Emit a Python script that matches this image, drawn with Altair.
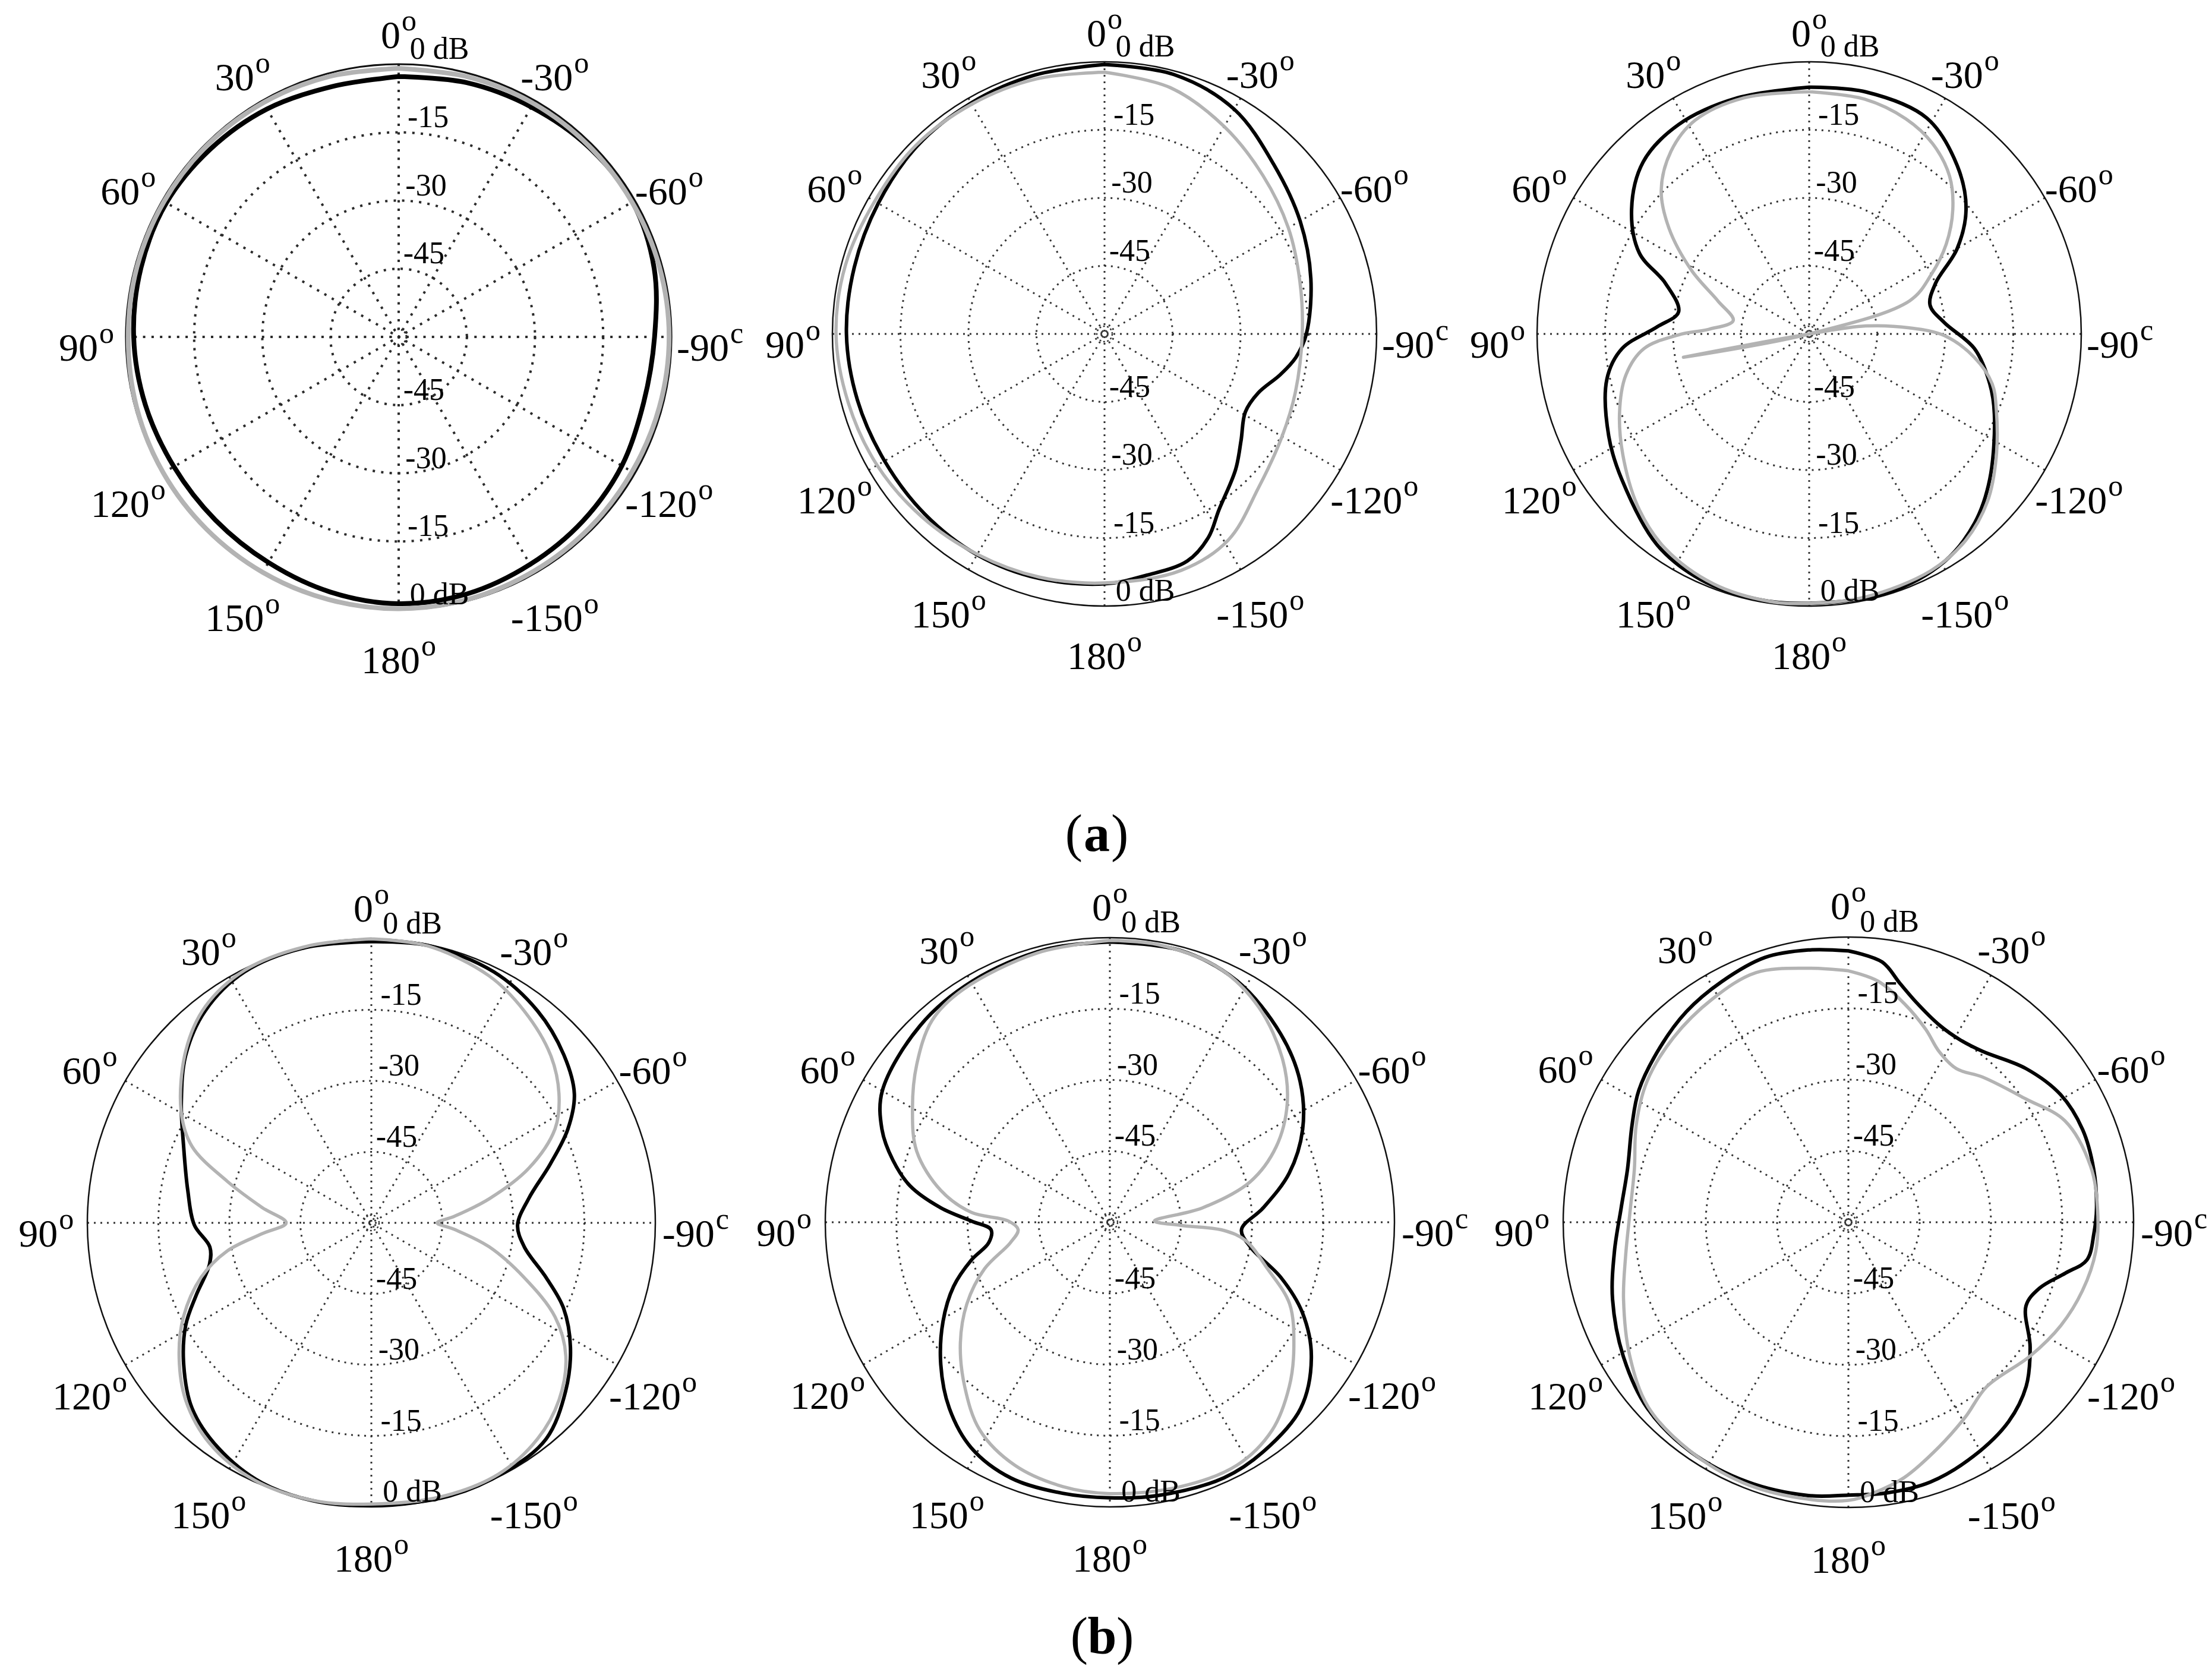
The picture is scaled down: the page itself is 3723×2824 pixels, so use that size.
import altair as alt
import pandas as pd

# ---------------- measured radiation patterns ----------------
# angle in degrees (0 = top, positive = counter-clockwise), normalised gain in dB
A1_BLACK_ANG = [0, 15, 30, 45, 60, 75, 90, 105, 120, 135, 150, 165, 180,
                -165, -150, -135, -120, -105, -90, -75, -60, -45, -30, -15]
A1_BLACK_DB = [-2.7, -3.0, -2.1, -1.5, -1.0, -1.3, -1.7, -2.3, -2.9, -3.0, -2.7, -1.9, -1.3,
               -1.5, -2.2, -2.7, -3.3, -4.2, -3.7, -1.8, -0.6, -0.9, -1.6, -2.1]
A1_GREY_ANG = [0, 15, 30, 45, 60, 75, 90, 105, 120, 135, 150, 165, 180,
               -165, -150, -135, -120, -105, -90, -75, -60, -45, -30, -15]
A1_GREY_DB = [-0.9, -0.7, -0.5, -0.4, -0.4, -0.4, -0.5, -0.3, -0.2, -0.2, -0.2, -0.2, -0.2,
              -0.3, -0.5, -0.6, -0.7, -0.6, -0.5, -0.6, -0.7, -0.7, -0.7, -0.8]

A2_BLACK_ANG = [0, 15, 30, 45, 60, 75, 90, 105, 120, 135, 150, 165, 180,
                -170, -160, -153, -147, -136, -128, -119, -111, -103, -97, -90,
                -75, -60, -45, -30, -15]
A2_BLACK_DB = [-0.6, -0.9, -1.2, -1.5, -2.4, -2.9, -3.1, -3.6, -4.0, -3.9, -3.8, -4.2, -4.9,
               -6.0, -6.7, -9.6, -13.7, -18.4, -21.8, -24.5, -23.7, -20.2, -17.5, -15.5,
               -12.9, -10.2, -7.2, -2.8, -0.8]
A2_GREY_ANG = [0, 15, 30, 45, 60, 75, 90, 105, 120, 135, 150, 165, 180,
               -162, -149, -135, -120, -107, -90, -75, -60, -45, -30, -15]
A2_GREY_DB = [-2.3, -1.8, -1.5, -1.2, -1.5, -0.9, -0.8, -1.5, -2.1, -3.0, -3.9, -4.5, -5.1,
              -5.2, -7.0, -12.0, -14.8, -16.0, -16.4, -15.4, -13.2, -10.6, -7.2, -3.8]

A3_BLACK_ANG = [0, 17, 32, 44, 55, 64.5, 70.6, 80.4, 87.4, 94.5, 102.6, 117, 127.8, 144.1,
                156.1, 168.9, 180, -163.1, -149.4, -138.8, -128.8, -113.4, -105.4, -95.1,
                -85.2, -76.6, -68.2, -60, -51.5, -41.4, -28.6, -13.2]
A3_BLACK_DB = [-5.6, -5.6, -5.6, -7.3, -12.2, -18.5, -26.4, -30.8, -26.4, -18.6, -14.3, -10.4,
               -7.7, -2.7, -0.8, -0.4, -0.6, -0.4, -1.6, -4.6, -8.9, -15.5, -18.7, -23.4,
               -30.1, -32.6, -30.0, -22.3, -15.8, -10.6, -5.8, -5.2]
A3_GREY_ANG = [0, 15.4, 28.1, 37.1, 45.8, 52.9, 61.6, 70.1, 80, 87.3, 90.4, 95.1, 102.6,
               112.9, 124.7, 136, 146.3, 159, 171.7, 180, -167.9, -152.8, -142.8, -133.1,
               -123.4, -112, -105.2, -98.1, -90.7, -86.5, -82, -80.8, -79.5, -78, -71.7,
               -64.1, -56.8, -49.1, -41.6, -33, -24.2, -13.3]
A3_GREY_DB = [-6.6, -6.0, -6.6, -9.5, -14.5, -21.2, -30.5, -38.6, -43.0, -37.9, -31.2, -23.4,
              -18.6, -14.6, -10.4, -6.1, -3.0, -1.0, -0.4, -0.6, -0.7, -1.3, -2.9, -6.1,
              -10.6, -15.5, -18.2, -23.2, -30.2, -37.9, -47.4, -60.0, -88.2, -60.0, -36.6,
              -30.1, -23.9, -18.1, -13.4, -10.0, -8.0, -6.8]

B1_BLACK_ANG = [0, 13.4, 26.8, 38.1, 47.8, 57.7, 67.9, 79.9, 90.7, 98.5, 104.4, 112.4, 118.9,
                127.1, 136, 145.8, 157.2, 169.4, 180, -163.9, -151.7, -141, -130.9, -122,
                -113.9, -107.4, -98.9, -90.9, -81.3, -71.8, -64.5, -57.6, -48.8, -38.1, -26,
                -11.6]
B1_BLACK_DB = [-0.6, -0.2, -0.6, -3.1, -7.1, -12.5, -17.2, -20.6, -22.6, -25.5, -24.7, -20.0,
               -15.2, -10.3, -5.5, -2.5, -0.4, 0.0, -0.3, 0.0, -0.3, -1.3, -5.7, -10.4, -15.6,
               -21.3, -27.3, -29.1, -26.4, -20.2, -14.0, -9.2, -6.0, -3.1, -1.0, -0.2]
B1_GREY_ANG = [0, 13.3, 26.6, 37.5, 47.1, 59.6, 66.9, 73.9, 82, 90, 95.7, 101.1, 107.8, 116.6,
               124.7, 133.6, 143.8, 155.6, 168.5, 180, -166, -153.2, -142.5, -133.3, -124.4,
               -117.1, -109.7, -101.5, -94.5, -90, -85.5, -78.5, -70.9, -62.9, -55.5, -46.8,
               -35.8, -25.5, -11.5]
B1_GREY_DB = [0.0, 0.0, -0.3, -2.4, -6.5, -13.4, -18.8, -28.3, -36.7, -42.0, -36.8, -28.9,
              -22.2, -15.6, -10.6, -5.8, -2.2, -0.3, -0.1, -0.6, -0.3, -0.5, -2.4, -5.5, -10.2,
              -16.4, -25.7, -34.6, -42.4, -46.1, -42.4, -34.6, -24.8, -16.4, -11.9, -8.1,
              -4.8, -2.2, -0.3]

B2_BLACK_ANG = [0, 13.2, 29.7, 44, 60, 67.8, 74, 79.7, 85.1, 89.5, 93.6, 99.6, 105.3, 112.3,
                120.7, 130.1, 139.2, 148.4, 158.8, 170.1, 180, -169.9, -155.9, -146.3, -134.3,
                -123.6, -115.1, -107.9, -100, -93.2, -84.6, -74.7, -64.3, -53.5, -42.2, -27.8,
                -14.6]
B2_BLACK_DB = [-0.9, -0.9, -1.5, -2.4, -4.6, -8.1, -12.4, -17.2, -24.2, -30.8, -34.9, -34.1,
               -29.7, -24.4, -19.1, -13.4, -8.2, -4.2, -2.2, -2.0, -1.9, -1.5, -1.0, -1.8,
               -3.8, -9.0, -15.2, -22.1, -29.9, -32.2, -27.5, -20.8, -14.9, -10.1, -6.4, -2.5,
               -0.8]
B2_GREY_ANG = [0, 15, 32.4, 41.4, 50.7, 59.9, 69.8, 79.3, 85.9, 89.3, 94.6, 101.6, 110.4, 119.7,
               128.9, 138.5, 148, 158.6, 169.9, 180, -165, -152.3, -142, -132.5, -124.2, -114.4,
               -106.5, -97.7, -94.1, -92.5, -88.3, -81.2, -73.9, -65.6, -56.2, -46.8, -34.8,
               -23.4, -10]
B2_GREY_DB = [-0.6, -1.2, -2.0, -3.3, -7.4, -11.9, -16.6, -23.7, -30.7, -38.6, -40.6, -38.6,
              -31.8, -25.3, -19.5, -13.8, -8.3, -5.0, -3.4, -2.8, -2.3, -2.2, -4.4, -8.7, -13.1,
              -18.4, -25.3, -31.1, -35.9, -45.1, -50.6, -40.3, -29.2, -21.5, -15.0, -10.0,
              -4.9, -1.7, -0.6]

B3_BLACK_ANG = [0, 8.4, 17.5, 27.8, 37.6, 47, 57.8, 65.8, 76.4, 86.4, 97.1, 108.1, 120.7, 132.7,
                145.5, 158.8, 171.7, 180, -171.9, -162.5, -151.8, -141.2, -132.7, -124.5,
                -115.2, -109.1, -103.2, -99, -92.7, -86.7, -77.7, -68.4, -59, -49.1, -38.1,
                -31.7, -24.7, -17.4, -12.2, -7.4]
B3_BLACK_DB = [-2.9, -2.1, -1.6, -2.8, -4.1, -5.9, -7.9, -10.1, -12.2, -12.1, -10.4, -7.8, -4.9,
               -2.4, -1.4, -1.4, -1.9, -2.6, -2.5, -2.7, -4.2, -6.2, -9.1, -13.6, -18.7, -17.5,
               -13.1, -9.2, -8.3, -7.7, -7.2, -7.0, -7.9, -10.6, -14.3, -15.0, -14.3, -11.7,
               -8.6, -4.8]
B3_GREY_ANG = [0, 9, 20.3, 31.3, 43.5, 55, 65.4, 76, 87.4, 98.6, 108.9, 121.4, 132.7, 145, 158,
               170, 180, -174.7, -167.7, -158.1, -149, -139.9, -126.3, -115.9, -106.3, -96.7,
               -87, -77, -64.9, -55.3, -42.8, -35.1, -27.9, -21.9, -14.3, -7]
B3_GREY_DB = [-7.1, -5.9, -4.0, -5.0, -6.5, -8.3, -10.9, -13.6, -14.0, -12.6, -10.0, -6.1, -2.7,
              -1.5, -0.9, -1.1, -1.5, -2.8, -5.0, -9.0, -12.2, -14.8, -12.5, -10.3, -8.7, -7.6,
              -7.5, -7.7, -9.7, -14.5, -18.4, -20.5, -19.3, -16.3, -12.5, -8.9]

# axis ticks / labels
ANGLE_TICKS = [0, 30, 60, 90, 120, 150, 180, -150, -120, -90, -60, -30]
ANGLE_TEXT = ["0", "30", "60", "90", "120", "150", "180", "-150", "-120", "-90", "-60", "-30"]
ANGLE_SUP = ["o", "o", "o", "o", "o", "o", "o", "o", "o", "c", "o", "o"]
SPOKE_ANGLES = [0, 30, 60, 90, 120, 150]
GRID_DB = [-45, -30, -15]
RLABEL_DB = [0, -15, -30, -45]
RLABEL_TEXT = ["0 dB", "-15", "-30", "-45"]
CAPTIONS = ["a", "b"]

# ---------------- layout / style ----------------
SERIF = "Liberation Serif"
BLACK = "#000000"
GREY = "#b3b3b3"
FS_NUM, FS_SUP, FS_DB, FS_CAP = 66, 50, 52, 88
LABEL_R = 1.145

PANELS = [
    dict(key="a1", cx=671, cy=567, R=459, bw=8.0, gw=8.0, gridw=4.0, dash=[4, 10.3], outw=3.2, gcol="#2a2a2a"),
    dict(key="a2", cx=1859, cy=562, R=458, bw=6.0, gw=5.5, gridw=3.0, dash=[3, 8], outw=2.5, gcol="#333333"),
    dict(key="a3", cx=3045, cy=562, R=458, bw=6.0, gw=5.5, gridw=3.0, dash=[3, 8], outw=2.5, gcol="#333333"),
    dict(key="b1", cx=625, cy=2058, R=478, bw=6.0, gw=5.5, gridw=3.0, dash=[3, 8], outw=2.5, gcol="#333333"),
    dict(key="b2", cx=1868, cy=2057, R=479, bw=6.0, gw=5.5, gridw=3.0, dash=[3, 8], outw=2.5, gcol="#333333"),
    dict(key="b3", cx=3111, cy=2057, R=480, bw=6.0, gw=5.5, gridw=3.0, dash=[3, 8], outw=2.5, gcol="#333333"),
]
CURVES = {
    "a1": [(A1_BLACK_ANG, A1_BLACK_DB, BLACK), (A1_GREY_ANG, A1_GREY_DB, GREY)],
    "a2": [(A2_BLACK_ANG, A2_BLACK_DB, BLACK), (A2_GREY_ANG, A2_GREY_DB, GREY)],
    "a3": [(A3_BLACK_ANG, A3_BLACK_DB, BLACK), (A3_GREY_ANG, A3_GREY_DB, GREY)],
    "b1": [(B1_BLACK_ANG, B1_BLACK_DB, BLACK), (B1_GREY_ANG, B1_GREY_DB, GREY)],
    "b2": [(B2_BLACK_ANG, B2_BLACK_DB, BLACK), (B2_GREY_ANG, B2_GREY_DB, GREY)],
    "b3": [(B3_BLACK_ANG, B3_BLACK_DB, BLACK), (B3_GREY_ANG, B3_GREY_DB, GREY)],
}
CAPTION_POS = [(1846, 1432), (1855, 2783)]

XS = alt.Scale(domain=[8, 3715], nice=False, zero=False)
YS = alt.Scale(domain=[8, 2816], nice=False, zero=False, reverse=True)
X = alt.X("x:Q", scale=XS, axis=None)
Y = alt.Y("y:Q", scale=YS, axis=None)
RHO = "(datum.db + 60) / 60"


def px(p, k="datum.rho", a="datum.ang"):
    return f"{p['cx']} - {p['R']} * {k} * sin({a} * PI / 180)"


def py(p, k="datum.rho", a="datum.ang"):
    return f"{p['cy']} - {p['R']} * {k} * cos({a} * PI / 180)"


def num_width(s):
    nd = sum(c.isdigit() for c in s)
    return FS_NUM * (0.5 * nd + (0.333 if s.startswith("-") else 0.0))


SUP_W = 0.5 * FS_SUP + 2
LABEL_OFF = [(num_width(s) - SUP_W) / 2 for s in ANGLE_TEXT]

layers = []
for p in PANELS:
    # dotted grid rings (vega circle symbol: radius = sqrt(size) / 2)
    rings = pd.DataFrame({"db": GRID_DB})
    layers.append(
        alt.Chart(rings)
        .transform_calculate(rho=RHO)
        .transform_calculate(x=str(p["cx"]), y=str(p["cy"]),
                             sz=f"pow(2 * {p['R']} * datum.rho, 2)")
        .mark_point(shape="circle", filled=False, opacity=1, color=p["gcol"],
                    strokeWidth=p["gridw"], strokeDash=p["dash"])
        .encode(x=X, y=Y, size=alt.Size("sz:Q", scale=None, legend=None))
    )
    # spokes
    sp = pd.DataFrame({"ang": SPOKE_ANGLES})
    layers.append(
        alt.Chart(sp)
        .transform_calculate(
            x=px(p, "1"), y=py(p, "1"), x2=px(p, "-1"), y2=py(p, "-1"))
        .mark_rule(color=p["gcol"], strokeWidth=p["gridw"], strokeDash=p["dash"])
        .encode(x=X, y=Y, x2=alt.X2("x2:Q"), y2=alt.Y2("y2:Q"))
    )
    # small centre circle
    cen = pd.DataFrame({"db": [-59.2]})
    layers.append(
        alt.Chart(cen)
        .transform_calculate(x=str(p["cx"]), y=str(p["cy"]), sz="26 * 26")
        .mark_point(shape="circle", filled=False, opacity=1, color=p["gcol"],
                    strokeWidth=p["gridw"] * 0.8, strokeDash=[3, 3.5])
        .encode(x=X, y=Y, size=alt.Size("sz:Q", scale=None, legend=None))
    )
    # outer 0 dB circle
    outer = pd.DataFrame({"db": [0]})
    layers.append(
        alt.Chart(outer)
        .transform_calculate(rho=RHO)
        .transform_calculate(x=str(p["cx"]), y=str(p["cy"]),
                             sz=f"pow(2 * {p['R']} * datum.rho, 2)")
        .mark_point(shape="circle", filled=False, opacity=1, color="#111111",
                    strokeWidth=p["outw"])
        .encode(x=X, y=Y, size=alt.Size("sz:Q", scale=None, legend=None))
    )
    # pattern curves
    for ang, db, col in CURVES[p["key"]]:
        n = len(ang)
        df = pd.DataFrame({"ang": list(ang) + [ang[0]],
                           "db": list(db) + [db[0]],
                           "seq": list(range(n + 1))})
        layers.append(
            alt.Chart(df)
            .transform_calculate(rho=RHO)
            .transform_calculate(x=px(p), y=py(p))
            .mark_line(interpolate="catmull-rom", color=col,
                       strokeWidth=p["bw"] if col == BLACK else p["gw"],
                       strokeCap="round", strokeJoin="round")
            .encode(x=X, y=Y, order=alt.Order("seq:Q"))
        )
    # angle labels: number + superscript
    lab = pd.DataFrame({"ang": ANGLE_TICKS, "t": ANGLE_TEXT, "sup": ANGLE_SUP,
                        "off": LABEL_OFF})
    base_x = px(p, str(LABEL_R))
    base_y = py(p, str(LABEL_R))
    layers.append(
        alt.Chart(lab)
        .transform_calculate(x=f"{base_x} + datum.off", y=base_y)
        .mark_text(align="right", baseline="middle", dy=20, font=SERIF,
                   fontSize=FS_NUM, color="black")
        .encode(x=X, y=Y, text="t:N")
    )
    layers.append(
        alt.Chart(lab)
        .transform_calculate(x=f"{base_x} + datum.off + 2", y=base_y)
        .mark_text(align="left", baseline="middle", dy=-5, font=SERIF,
                   fontSize=FS_SUP, color="black")
        .encode(x=X, y=Y, text="sup:N")
    )
    # radial dB labels (above and below the centre)
    dbl = pd.DataFrame({"db": RLABEL_DB * 2, "t": RLABEL_TEXT * 2,
                        "side": [1] * len(RLABEL_DB) + [-1] * len(RLABEL_DB)})
    layers.append(
        alt.Chart(dbl)
        .transform_calculate(rho=RHO)
        .transform_calculate(
            x=f"{p['cx']} + 4 + 0.032 * {p['R']} * datum.rho",
            y=f"{p['cy']} - datum.side * {p['R']} * datum.rho")
        .mark_text(align="left", baseline="alphabetic", dy=-9, font=SERIF,
                   fontSize=FS_DB, color="black")
        .encode(x=X, y=Y, text="t:N")
    )

# captions (a) and (b)
cap = pd.DataFrame({"t": CAPTIONS,
                    "cx": [c[0] for c in CAPTION_POS],
                    "cy": [c[1] for c in CAPTION_POS]})
layers.append(
    alt.Chart(cap).transform_calculate(x="datum.cx", y="datum.cy")
    .mark_text(align="center", baseline="alphabetic", font=SERIF, fontSize=FS_CAP,
               fontWeight="bold", color="black")
    .encode(x=X, y=Y, text="t:N")
)
layers.append(
    alt.Chart(cap).transform_calculate(x="datum.cx - 24", y="datum.cy", lp="'('")
    .mark_text(align="right", baseline="alphabetic", font=SERIF, fontSize=FS_CAP,
               color="black")
    .encode(x=X, y=Y, text="lp:N")
)
layers.append(
    alt.Chart(cap).transform_calculate(x="datum.cx + 24", y="datum.cy", rp="')'")
    .mark_text(align="left", baseline="alphabetic", font=SERIF, fontSize=FS_CAP,
               color="black")
    .encode(x=X, y=Y, text="rp:N")
)

chart = (
    alt.layer(*layers)
    .properties(width=3707, height=2808, autosize=alt.AutoSizeParams(type="none"),
                padding=0, background="white")
    .configure_view(stroke=None)
)

chart.save("out.html", embed_options={"renderer": "svg", "actions": False})
